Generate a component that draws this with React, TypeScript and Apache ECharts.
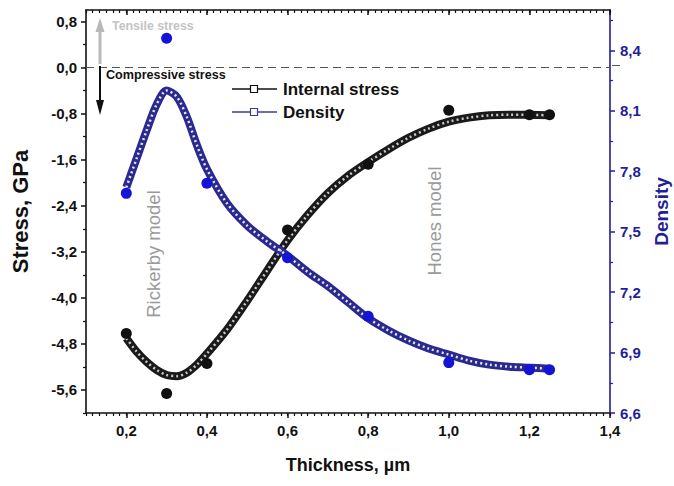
import React, { useEffect, useRef } from "react";
import * as echarts from "echarts";

// ---- data ----
const xPoints = [0.2, 0.3, 0.4, 0.6, 0.8, 1.0, 1.2, 1.25];
const stressPoints = [-4.62, -5.66, -5.14, -2.82, -1.68, -0.74, -0.82, -0.82];
const densityPoints = [7.69, 8.46, 7.74, 7.37, 7.08, 6.85, 6.815, 6.815];

const xFit = [0.2, 0.225, 0.25, 0.275, 0.3, 0.325, 0.35, 0.375, 0.4, 0.45, 0.5, 0.55, 0.6, 0.65, 0.7, 0.75, 0.8, 0.85, 0.9, 0.95, 1.0, 1.05, 1.1, 1.15, 1.2, 1.25];
const stressFit = [-4.70, -4.93, -5.11, -5.25, -5.34, -5.36, -5.30, -5.16, -4.97, -4.55, -4.05, -3.52, -3.00, -2.56, -2.18, -1.88, -1.64, -1.42, -1.22, -1.06, -0.94, -0.87, -0.83, -0.82, -0.82, -0.83];
const densityFit = [7.72, 7.86, 8.00, 8.13, 8.20, 8.17, 8.07, 7.93, 7.81, 7.64, 7.53, 7.45, 7.38, 7.30, 7.23, 7.15, 7.07, 7.01, 6.96, 6.92, 6.89, 6.86, 6.84, 6.83, 6.825, 6.82];

const xTicks = [0.2, 0.4, 0.6, 0.8, 1.0, 1.2, 1.4];
const stressTicks = [-5.6, -4.8, -4.0, -3.2, -2.4, -1.6, -0.8, 0.0, 0.8];
const stressMinorTicks = [-6.0, -5.2, -4.4, -3.6, -2.8, -2.0, -1.2, -0.4, 0.4];
const densityTicks = [6.6, 6.9, 7.2, 7.5, 7.8, 8.1, 8.4];
const densityMinorTicks = [6.75, 7.05, 7.35, 7.65, 7.95, 8.25, 8.55];

const X_MIN = 0.1, X_MAX = 1.4;
const X_MINOR_STEP = 1 / 60;
const S_MIN = -6.0, S_MAX = 1.0;
const D_MIN = 6.6, D_MAX = 8.6;

const GRID_TOP = 10, GRID_BOTTOM = 73, CHART_H = 486;
const GRID_H = CHART_H - GRID_TOP - GRID_BOTTOM;

const NAVY = "#1f1f96";
const FONT = "'Liberation Sans', Arial, sans-serif";

function fmt(v: number) {
  return Number(v).toFixed(1).replace(".", ",");
}

export default function App() {
  const ref = useRef<HTMLDivElement>(null);
  useEffect(() => {
    if (!ref.current) return;
    const chart = echarts.init(ref.current, null, { renderer: "svg" });
    const labelStyle = { fontFamily: FONT, fontWeight: "bold" as const, fontSize: 15, color: "#111" };

    const baseX = (extra: any) => ({
      type: "value",
      min: X_MIN,
      max: X_MAX,
      splitLine: { show: false },
      ...extra,
    });

    const option: any = {
      animation: false,
      backgroundColor: "#fff",
      grid: { left: 86, right: 64, top: GRID_TOP, bottom: GRID_BOTTOM, containLabel: false, outerBoundsMode: "none" },
      xAxis: [
        baseX({
          position: "bottom",
          axisLine: { onZero: false, lineStyle: { color: "#111", width: 1.6 } },
          axisTick: { show: true, inside: false, length: 5, customValues: xTicks, lineStyle: { color: "#111", width: 1.5 } },
          axisLabel: { customValues: xTicks, formatter: fmt, margin: 10, ...labelStyle },
          name: "Thickness, \u00b5m",
          nameLocation: "middle",
          nameGap: 43,
          nameTextStyle: { fontFamily: FONT, fontWeight: "bold", fontSize: 18, color: "#111" },
        }),
        baseX({
          position: "bottom",
          interval: X_MINOR_STEP,
          axisLine: { show: false, onZero: false },
          axisTick: { show: true, inside: false, length: 3, lineStyle: { color: "#111", width: 1.2 } },
          axisLabel: { show: false },
        }),
        // top frame axis: a bottom axis shifted up to the top edge, so its outward ticks point into the plot
        baseX({
          position: "bottom",
          offset: -GRID_H,
          axisLine: { onZero: false, lineStyle: { color: "#111", width: 1.6 } },
          axisTick: { show: true, inside: false, length: 5, customValues: xTicks, lineStyle: { color: "#111", width: 1.5 } },
          axisLabel: { show: false, customValues: xTicks },
        }),
        baseX({
          position: "bottom",
          offset: -GRID_H,
          interval: X_MINOR_STEP,
          axisLine: { show: false, onZero: false },
          axisTick: { show: true, inside: false, length: 3, lineStyle: { color: "#111", width: 1.2 } },
          axisLabel: { show: false },
        }),
      ],
      yAxis: [
        {
          type: "value",
          position: "left",
          min: S_MIN,
          max: S_MAX,
          splitLine: { show: false },
          axisLine: { show: true, onZero: false, lineStyle: { color: "#111", width: 1.6 } },
          axisTick: { show: true, inside: false, length: 5, customValues: stressTicks, lineStyle: { color: "#111", width: 1.5 } },
          axisLabel: { customValues: stressTicks, formatter: fmt, margin: 9, ...labelStyle },
          name: "Stress, GPa",
          nameLocation: "middle",
          nameGap: 55,
          nameTextStyle: { fontFamily: FONT, fontWeight: "bold", fontSize: 22, color: "#111" },
        },
        {
          type: "value",
          position: "right",
          min: D_MIN,
          max: D_MAX,
          splitLine: { show: false },
          axisLine: { show: true, onZero: false, lineStyle: { color: NAVY, width: 1.6 } },
          axisTick: { show: true, inside: false, length: 5, customValues: densityTicks, lineStyle: { color: NAVY, width: 1.5 } },
          axisLabel: { customValues: densityTicks, formatter: fmt, margin: 10, ...labelStyle, color: NAVY },
          name: "Density",
          nameLocation: "middle",
          nameGap: 42,
          nameTextStyle: { fontFamily: FONT, fontWeight: "bold", fontSize: 19, color: NAVY },
        },
        {
          type: "value",
          position: "left",
          min: S_MIN,
          max: S_MAX,
          splitLine: { show: false },
          axisLine: { show: false, onZero: false },
          axisTick: { show: true, inside: false, length: 3, customValues: stressMinorTicks, lineStyle: { color: "#111", width: 1.2 } },
          axisLabel: { show: false },
        },
        {
          type: "value",
          position: "right",
          min: D_MIN,
          max: D_MAX,
          splitLine: { show: false },
          axisLine: { show: false, onZero: false },
          axisTick: { show: true, inside: false, length: 3, customValues: densityMinorTicks, lineStyle: { color: NAVY, width: 1.2 } },
          axisLabel: { show: false },
        },
      ],
      series: [
        {
          name: "Internal stress",
          type: "line",
          xAxisIndex: 0,
          yAxisIndex: 0,
          data: xFit.map((x, i) => [x, stressFit[i]]),
          smooth: 0.3,
          showSymbol: false,
          lineStyle: { color: "#1a1a1a", width: 8 },
          z: 2,
          markLine: {
            silent: true,
            symbol: "none",
            label: { show: false },
            lineStyle: { color: "#555", width: 1, type: [8, 5] },
            data: [{ yAxis: 0 }],
          },
        },
        {
          name: "Internal stress texture",
          type: "line",
          xAxisIndex: 0,
          yAxisIndex: 0,
          data: xFit.map((x, i) => [x, stressFit[i]]),
          smooth: 0.3,
          showSymbol: false,
          lineStyle: { color: "#c8c8c8", width: 2.5, type: [2, 3] },
          z: 3,
        },
        {
          name: "Density",
          type: "line",
          xAxisIndex: 0,
          yAxisIndex: 1,
          data: xFit.map((x, i) => [x, densityFit[i]]),
          smooth: 0.3,
          showSymbol: false,
          lineStyle: { color: "#2a2a8e", width: 8 },
          z: 2,
        },
        {
          name: "Density texture",
          type: "line",
          xAxisIndex: 0,
          yAxisIndex: 1,
          data: xFit.map((x, i) => [x, densityFit[i]]),
          smooth: 0.3,
          showSymbol: false,
          lineStyle: { color: "#e4e4f4", width: 2.5, type: [2, 3] },
          z: 3,
        },
        {
          name: "Stress data",
          type: "scatter",
          xAxisIndex: 0,
          yAxisIndex: 0,
          data: xPoints.map((x, i) => [x, stressPoints[i]]),
          symbol: "circle",
          symbolSize: 11,
          itemStyle: { color: "#111", opacity: 1 },
          z: 5,
        },
        {
          name: "Density data",
          type: "scatter",
          xAxisIndex: 0,
          yAxisIndex: 1,
          data: xPoints.map((x, i) => [x, densityPoints[i]]),
          symbol: "circle",
          symbolSize: 11,
          itemStyle: { color: "#1414d6", opacity: 1 },
          z: 5,
        },
      ],
      graphic: [
        // zero line extension past the right axis
        { type: "line", shape: { x1: 612, y1: 65.5, x2: 620, y2: 65.5 }, style: { stroke: "#555", lineWidth: 1 }, z: 10 },
        // tensile arrow
        { type: "line", shape: { x1: 100, y1: 64, x2: 100, y2: 30 }, style: { stroke: "#b8b8b8", lineWidth: 3 }, z: 10 },
        { type: "polygon", shape: { points: [[100, 18], [95.5, 32], [104.5, 32]] }, style: { fill: "#b8b8b8" }, z: 10 },
        { type: "text", x: 112, y: 26, style: { text: "Tensile stress", fill: "#c4c4c4", font: `bold 12.4px ${FONT}`, verticalAlign: "middle" }, z: 10 },
        // compressive arrow
        { type: "line", shape: { x1: 100, y1: 66, x2: 100, y2: 102 }, style: { stroke: "#111", lineWidth: 2 }, z: 10 },
        { type: "polygon", shape: { points: [[100, 115], [96, 100], [104, 100]] }, style: { fill: "#111" }, z: 10 },
        { type: "text", x: 106, y: 75, style: { text: "Compressive stress", fill: "#111", font: `bold 12.6px ${FONT}`, verticalAlign: "middle" }, z: 10 },
        // model labels
        { type: "text", x: 153, y: 254, rotation: Math.PI / 2, style: { text: "Rickerby model", fill: "#9a9a9a", font: `18.5px ${FONT}`, align: "center", verticalAlign: "middle" }, z: 10 },
        { type: "text", x: 434, y: 221, rotation: Math.PI / 2, style: { text: "Hones model", fill: "#9a9a9a", font: `18.5px ${FONT}`, align: "center", verticalAlign: "middle" }, z: 10 },
        // legend
        { type: "line", shape: { x1: 232, y1: 89, x2: 277, y2: 89 }, style: { stroke: "#111", lineWidth: 1.3 }, z: 10 },
        { type: "rect", shape: { x: 250.5, y: 85.5, width: 7, height: 7 }, style: { fill: "#fff", stroke: "#111", lineWidth: 1.2 }, z: 11 },
        { type: "text", x: 283, y: 89, style: { text: "Internal stress", fill: "#111", font: `bold 17px ${FONT}`, verticalAlign: "middle" }, z: 10 },
        { type: "line", shape: { x1: 232, y1: 112, x2: 277, y2: 112 }, style: { stroke: "#3a3aa0", lineWidth: 1.3 }, z: 10 },
        { type: "rect", shape: { x: 250.5, y: 108.5, width: 7, height: 7 }, style: { fill: "#fff", stroke: "#3a3aa0", lineWidth: 1.2 }, z: 11 },
        { type: "text", x: 283, y: 112, style: { text: "Density", fill: "#111", font: `bold 17px ${FONT}`, verticalAlign: "middle" }, z: 10 },
      ],
    };
    chart.setOption(option);
    return () => chart.dispose();
  }, []);

  return (
    <div
      ref={ref}
      style={{ position: "fixed", left: 0, top: 0, width: 674, height: 486, background: "#fff" }}
    />
  );
}
